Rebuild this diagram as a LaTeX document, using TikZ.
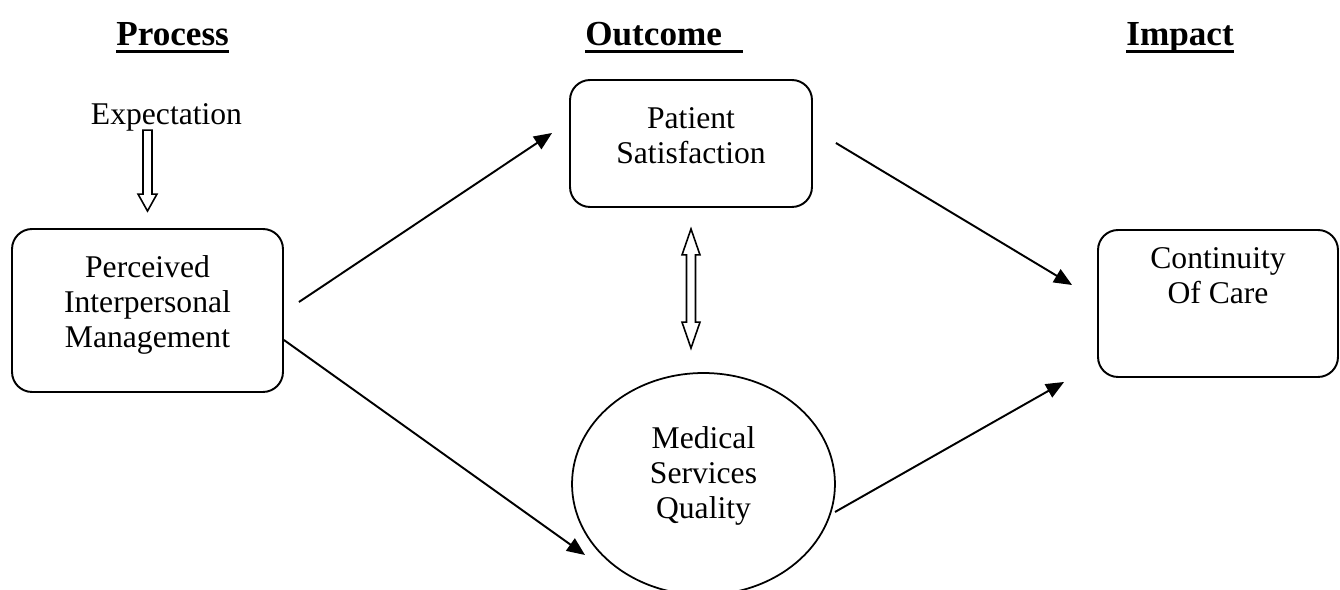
\documentclass[tikz,border=0pt]{standalone}
\usepackage{fontspec}
\setmainfont{Liberation Serif}
\usetikzlibrary{arrows.meta,shapes.geometric}

\newcommand{\ulhead}[2][0pt]{\setbox0\hbox{\textbf{#2}\hspace{#1}}\rlap{\rule[-4pt]{\wd0}{1.7pt}}\box0}

\begin{document}
\begin{tikzpicture}[x=0.02cm,y=-0.02cm]
\tikzstyle{roundbox}=[draw, line width=1.1pt, rectangle, rounded corners=0.4cm]
\tikzstyle{oval}=[draw, line width=1pt, ellipse, minimum width=5.26cm, minimum height=4.44cm]
\tikzstyle{txt}=[align=center, inner sep=0pt, font=\fontsize{18}{19.8}\selectfont]
\tikzstyle{head}=[anchor=base west, inner sep=0pt, font=\fontsize{20}{24}\selectfont]
\tikzstyle{link}=[line width=1.1pt, -{Triangle[length=0.36cm, width=0.3cm]}]
\tikzstyle{hollow}=[draw, line width=0.9pt, line join=miter]

\useasboundingbox (0,0) rectangle (1340,590);

% headings
\node[head] (hproc) at (116,46) {\ulhead{Process}};
\node[head] (hout) at (585,46) {\ulhead[12pt]{Outcome}};
\node[head] (himp) at (1126,46) {\ulhead{Impact}};

% boxes
\node[roundbox, minimum width=5.42cm, minimum height=3.26cm] (pim) at (147.5,310.5) {};
\node[roundbox, minimum width=4.84cm, minimum height=2.54cm] (ps) at (691,143.5) {};
\node[roundbox, minimum width=4.8cm, minimum height=2.94cm] (coc) at (1218,303.5) {};
\node[oval] (msq) at (703.5,484) {};

% texts
\node[txt] (exp) at (166.5,117) {Expectation};
\node[txt] (pimtext) at (147.5,305) {Perceived\\Interpersonal\\Management};
\node[txt] (pstext) at (691,136) {Patient\\Satisfaction};
\node[txt] (coctext) at (1218,276) {Continuity\\Of Care};
\node[txt] (msqtext) at (703.5,476) {Medical\\Services\\Quality};

% hollow arrows
\coordinate (et) at ([shift={(0,-1)}]exp.south -| pim.north);
\coordinate (eb) at ([shift={(0,-17)}]pim.north);
\draw[hollow] ([shift={(-4.5,0)}]et) -- ([shift={(-4.5,-17)}]eb) -- ([shift={(-9.5,-17)}]eb) -- (eb)
  -- ([shift={(9.5,-17)}]eb) -- ([shift={(4.5,-17)}]eb) -- ([shift={(4.5,0)}]et) -- cycle;

\coordinate (dt) at ([shift={(0,21)}]ps.south);
\coordinate (db) at ([shift={(0,-24)}]ps.south |- msq.north);
\draw[hollow] (dt) -- ([shift={(9,26)}]dt) -- ([shift={(4.5,26)}]dt) -- ([shift={(4.5,-26)}]db)
  -- ([shift={(9,-26)}]db) -- (db) -- ([shift={(-9,-26)}]db) -- ([shift={(-4.5,-26)}]db)
  -- ([shift={(-4.5,26)}]dt) -- ([shift={(-9,26)}]dt) -- cycle;

% connectors
\draw[link] ([shift={(15,-8.5)}]pim.east) -- ([shift={(-17,-10.5)}]ps.west);
\draw[link] ([shift={(0,29.5)}]pim.east) -- ([shift={(-118.5,71)}]msq.center);
\draw[link] ([shift={(23,-0.5)}]ps.east) -- ([shift={(-25,-18.5)}]coc.west);
\draw[link] ([shift={(131.5,28)}]msq.center) -- ([shift={(-33,78.5)}]coc.west);
\end{tikzpicture}
\end{document}
